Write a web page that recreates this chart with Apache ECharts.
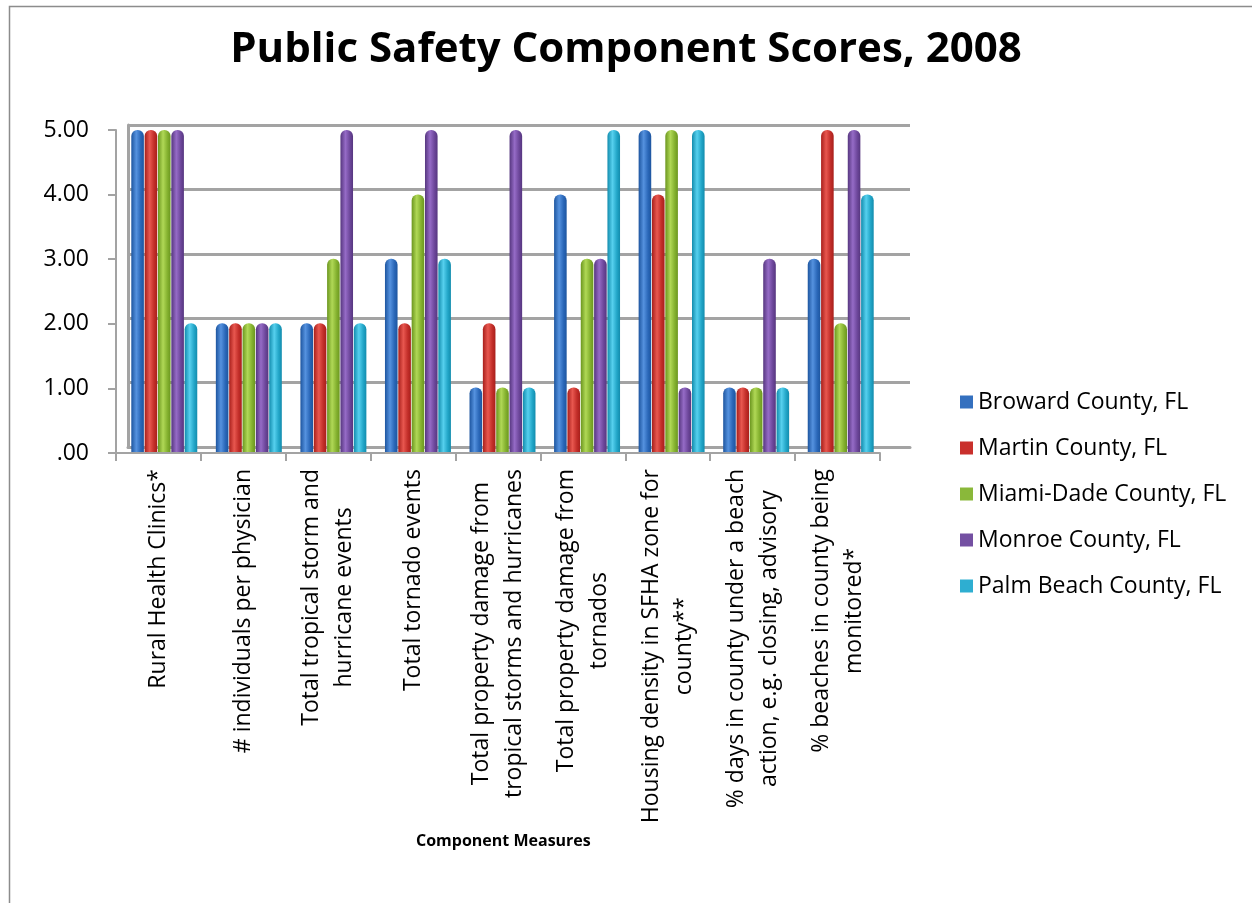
<!DOCTYPE html>
<html>
<head>
<meta charset="utf-8">
<script src="https://cdn.jsdelivr.net/npm/echarts@6/dist/echarts.min.js"></script>
<style>html,body{margin:0;padding:0;background:#fff}#c{width:1252px;height:903px}</style>
</head>
<body>
<div id="c"></div>
<script>
const categories = [
  "Rural Health Clinics*",
  "# individuals per physician",
  "Total tropical storm and\nhurricane events",
  "Total tornado events",
  "Total property damage from\ntropical storms and hurricanes",
  "Total property damage from\ntornados",
  "Housing density in SFHA zone for\ncounty**",
  "% days in county under a beach\naction, e.g. closing, advisory",
  "% beaches in county being\nmonitored*"
];
const seriesNames = ["Broward County, FL", "Martin County, FL", "Miami-Dade County, FL", "Monroe County, FL", "Palm Beach County, FL"];
const broward   = [5, 2, 2, 3, 1, 4, 5, 1, 3];
const martin    = [5, 2, 2, 2, 2, 1, 4, 1, 5];
const miamiDade = [5, 2, 3, 4, 1, 3, 5, 1, 2];
const monroe    = [5, 2, 5, 5, 5, 3, 1, 3, 5];
const palmBeach = [2, 2, 2, 3, 1, 5, 5, 1, 4];
const yTicks = [0, 1, 2, 3, 4, 5];

const values = [broward, martin, miamiDade, monroe, palmBeach];
const shades = [
  ["#1d559f", "#5592df", "#2a67b8"],
  ["#a81f1b", "#e8574f", "#c22e29"],
  ["#6b961f", "#b0d856", "#84b12f"],
  ["#56367f", "#956bc6", "#6d479b"],
  ["#128cad", "#56d0ee", "#22a6c8"]
];
const legendColors = ["#3470bf", "#c9302c", "#8ab83a", "#7450a2", "#2eaed1"];
const font = "'Open Sans', sans-serif";
const gray = '#a3a3a3';

const chart = echarts.init(document.getElementById('c'));
chart.setOption({
  backgroundColor: '#fff',
  animation: false,
  title: [
    {
      text: 'Public Safety Component Scores, 2008',
      left: 'center', top: 24,
      textStyle: { fontFamily: font, fontWeight: 'bold', fontSize: 42, color: '#000' }
    },
    {
      text: 'Component Measures',
      left: 411, top: 828,
      textStyle: { fontFamily: font, fontWeight: 'bold', fontSize: 16, color: '#000' }
    }
  ],
  legend: {
    orient: 'vertical', left: 955, top: 383,
    itemWidth: 13, itemHeight: 13, itemGap: 18,
    icon: 'rect',
    textStyle: { fontFamily: font, fontSize: 23, color: '#000', lineHeight: 28 },
    data: seriesNames.map((n, i) => ({ name: n, itemStyle: { color: legendColors[i] } }))
  },
  graphic: [{
    type: 'rect', left: 7, top: 4,
    shape: { width: 1262, height: 920 },
    style: { fill: 'none', stroke: '#8c8c8c', lineWidth: 1.5 }, silent: true
  }],
  grid: [
    { left: 128, right: 342, top: 125, bottom: 456 },   // back wall
    { left: 116, right: 372, top: 130, bottom: 450 },   // front axes
    { left: 122, right: 369, top: 130, bottom: 451 }    // bars
  ],
  xAxis: [
    {
      gridIndex: 0, type: 'category', data: categories,
      axisLine: { lineStyle: { color: gray, width: 3 } },
      axisTick: { show: false }, axisLabel: { show: false }
    },
    {
      gridIndex: 1, type: 'category', data: categories,
      axisLine: { lineStyle: { color: gray, width: 2 } },
      axisTick: { show: true, length: 8, lineStyle: { color: gray, width: 2 } },
      axisLabel: {
        interval: 0, rotate: 90, margin: 16,
        formatter: v => v.split('\n').map(l => '{a|' + l + '}').join('\n'),
        rich: { a: { align: 'center', fontFamily: font, fontSize: 23, color: '#000', lineHeight: 33 } }
      }
    },
    {
      gridIndex: 2, type: 'category', data: categories, show: false
    }
  ],
  yAxis: [
    {
      gridIndex: 0, type: 'value', min: 0, max: 5, interval: 1,
      axisLine: { show: true, lineStyle: { color: gray, width: 3 } },
      axisTick: { show: false }, axisLabel: { show: false },
      splitLine: { lineStyle: { color: gray, width: 3 } }
    },
    {
      gridIndex: 1, type: 'value', min: 0, max: 5, interval: 1,
      axisLine: { show: true, lineStyle: { color: gray, width: 2 } },
      axisTick: { show: true, length: 8, lineStyle: { color: gray, width: 2 } },
      splitLine: { show: false },
      axisLabel: {
        margin: 27, fontFamily: font, fontSize: 23, color: '#000',
        formatter: v => (yTicks.indexOf(v) === 0 ? '.00' : v.toFixed(2))
      }
    },
    {
      gridIndex: 2, type: 'value', min: 0, max: 5, interval: 1, show: false,
      splitLine: { show: false }
    }
  ],
  series: values.map((vals, i) => ({
    name: seriesNames[i],
    type: 'bar',
    xAxisIndex: 2, yAxisIndex: 2,
    data: vals,
    barGap: '6%',
    barCategoryGap: '22%',
    itemStyle: {
      borderRadius: [6, 6, 0, 0],
      color: new echarts.graphic.LinearGradient(0, 0, 1, 0, [
        { offset: 0, color: shades[i][0] },
        { offset: 0.4, color: shades[i][1] },
        { offset: 0.75, color: shades[i][2] },
        { offset: 1, color: shades[i][0] }
      ])
    }
  }))
});
</script>
</body>
</html>
